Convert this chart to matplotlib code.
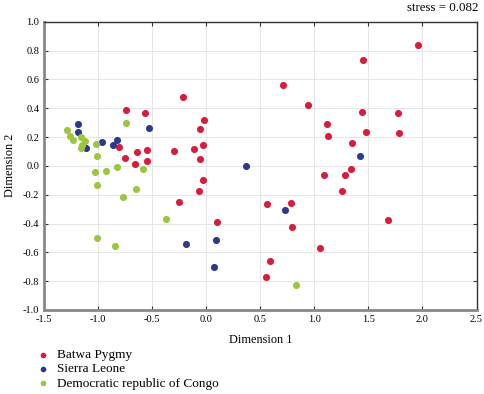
import matplotlib
matplotlib.use("Agg")
import matplotlib.pyplot as plt

plt.rcParams['font.family'] = ['Liberation Serif', 'DejaVu Serif']

# MDS coordinates
batwa_x = [-0.740, -0.564, -0.219, -0.019, -0.056, -0.805, -0.641, -0.549, -0.752, -0.660,
           -0.549, -0.296, -0.117, -0.031, -0.056, -0.034, -0.071, -0.247, 0.102, 1.958,
           1.452, 0.710, 0.937, 1.443, 1.770, 1.117, 1.126, 1.474, 1.785, 1.348,
           1.094, 1.286, 1.339, 1.252, 0.562, 0.784, 1.684, 0.796, 1.055, 0.586, 0.549]
batwa_y = [0.387, 0.364, 0.479, 0.318, 0.257, 0.130, 0.096, 0.107, 0.051, 0.014,
           0.031, 0.101, 0.117, 0.146, 0.045, -0.096, -0.173, -0.249, -0.390, 0.836,
           0.736, 0.562, 0.422, 0.371, 0.364, 0.292, 0.209, 0.236, 0.230, 0.160,
           -0.064, -0.064, -0.022, -0.173, -0.263, -0.256, -0.374, -0.426, -0.572, -0.660, -0.769]

sierra_x = [-1.187, -1.187, -1.110, -0.959, -0.860, -0.821, -0.527, 0.370, -0.185, 0.090, 0.071, 0.728, 1.418]
sierra_y = [0.292, 0.232, 0.123, 0.163, 0.144, 0.179, 0.262, -0.001, -0.542, -0.512, -0.702, -0.307, 0.066]

congo_x = [-1.289, -1.258, -1.228, -1.156, -1.119, -1.150, -1.156, -1.020, -1.011, -1.030,
           -0.925, -0.821, -0.743, -1.011, -0.771, -0.580, -0.648, -0.370, -1.006, -0.839, 0.835]
congo_y = [0.250, 0.209, 0.179, 0.200, 0.174, 0.144, 0.121, 0.149, 0.068, -0.041,
           -0.034, -0.006, 0.297, -0.133, -0.214, -0.019, -0.159, -0.369, -0.499, -0.558, -0.829]

red = '#d81c3c'
blue = '#2b3a8e'
green = '#9cc63f'

fig = plt.figure(figsize=(4.85, 3.94), dpi=100)
ax = fig.add_axes([0.0907, 0.2132, 0.8918, 0.7318])

ax.scatter(batwa_x, batwa_y, s=26, color=red, linewidths=0, label='Batwa Pygmy', zorder=3)
ax.scatter(sierra_x, sierra_y, s=26, color=blue, linewidths=0, label='Sierra Leone', zorder=3)
ax.scatter(congo_x, congo_y, s=26, color=green, linewidths=0, label='Democratic republic of Congo', zorder=3)

ax.set_xlim(-1.5, 2.5)
ax.set_ylim(-1.0, 1.0)
ax.set_xticks([-1.5, -1.0, -0.5, 0.0, 0.5, 1.0, 1.5, 2.0, 2.5])
ax.set_yticks([-1.0, -0.8, -0.6, -0.4, -0.2, 0.0, 0.2, 0.4, 0.6, 0.8, 1.0])
ax.set_xticklabels(['%.1f' % v for v in ax.get_xticks()])
ax.set_yticklabels(['%.1f' % v for v in ax.get_yticks()])
ax.tick_params(direction='in', top=True, right=True, labelsize=7.5, length=3, width=0.8, color='#333333')
ax.grid(True, color='#e6e6e6', linewidth=0.7, zorder=0)

for side in ['left', 'bottom']:
    ax.spines[side].set_color('#888888')
    ax.spines[side].set_linewidth(2)
for side in ['top', 'right']:
    ax.spines[side].set_color('#333333')
    ax.spines[side].set_linewidth(1)

ax.set_xlabel('Dimension 1', fontsize=8.8, labelpad=7)
ax.set_ylabel('Dimension 2', fontsize=8.8, labelpad=5)

fig.text(0.986, 0.979, 'stress = 0.082', ha='right', va='center', fontsize=9.3)

fig.legend(loc='upper left', bbox_to_anchor=(0.065, 0.128), frameon=False, fontsize=9.5,
           handletextpad=0.5, labelspacing=0.15, borderaxespad=0, markerscale=0.8,
           handlelength=1.0)

fig.savefig('out.png', dpi=100)
